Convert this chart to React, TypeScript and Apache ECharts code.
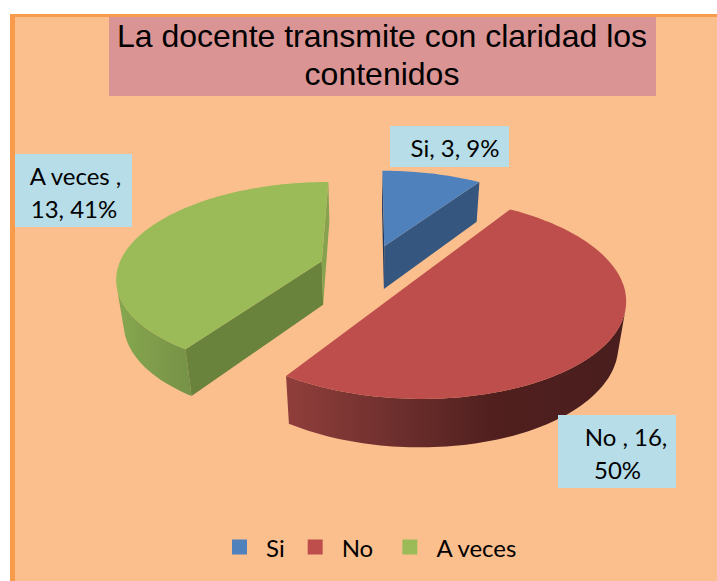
import React, { useEffect, useRef } from "react";
import * as echarts from "echarts";

const categories = ["Si", "No ", "A veces "];
const counts = [3, 16, 13];
const topColors = ["#4F81BD", "#BD4E4B", "#9BBB59"];
const titleText = "La docente transmite con claridad los\ncontenidos";

// View of the tilted pie: perspective projection of the unit disc.
const VIEW = { cx: 370, cy: 268, fx: 204, fy: 94, k: 0.16, explode: 0.25, depth: 45, recede: 0.03 };
const total = counts.reduce((a, b) => a + b, 0);

function project(u: number, v: number, bottom: boolean): [number, number] {
  const w = 1 - VIEW.k * v + (bottom ? VIEW.recede : 0);
  return [VIEW.cx + (VIEW.fx * u) / w, VIEW.cy + (VIEW.fy * v + (bottom ? VIEW.depth : 0)) / w];
}

function area(q: number[][]) {
  let s = 0;
  for (let i = 0; i < q.length; i++) {
    const a = q[i];
    const b = q[(i + 1) % q.length];
    s += a[0] * b[1] - b[0] * a[1];
  }
  return s;
}

const wallStyles = [
  { outer: "#34567F", start: "#1F3A5F", end: "#34567F" },
  {
    outer: new echarts.graphic.LinearGradient(287, 0, 620, 0, [
      { offset: 0, color: "#903E3B" },
      { offset: 0.35, color: "#6B2E2C" },
      { offset: 0.62, color: "#501F1E" },
      { offset: 1, color: "#4A1E1E" },
    ], true),
    start: "#6B2E2C",
    end: "#6B2E2C",
  },
  {
    outer: new echarts.graphic.LinearGradient(120, 0, 190, 0, [
      { offset: 0, color: "#86A64E" },
      { offset: 1, color: "#769247" },
    ], true),
    start: "#6A833C",
    end: "#86A24E",
  },
];

function makeRender(index: number) {
  return (_params: any, api: any) => {
    const before = counts.slice(0, index).reduce((a, b) => a + b, 0);
    const value = api.value(0);
    const a0 = (before / total) * Math.PI * 2;
    const a1 = ((before + value) / total) * Math.PI * 2;
    const mid = (a0 + a1) / 2;
    const ou = Math.sin(mid) * VIEW.explode;
    const ov = -Math.cos(mid) * VIEW.explode;
    const steps = Math.max(8, Math.round((a1 - a0) * 40));
    const top: number[][] = [];
    const bot: number[][] = [];
    for (let i = 0; i <= steps; i++) {
      const t = a0 + ((a1 - a0) * i) / steps;
      const u = ou + Math.sin(t);
      const v = ov - Math.cos(t);
      top.push(project(u, v, false));
      bot.push(project(u, v, true));
    }
    const ct = project(ou, ov, false);
    const cb = project(ou, ov, true);
    const styles = wallStyles[index];
    const children: any[] = [];
    const poly = (points: number[][], fill: any) => ({
      type: "polygon",
      shape: { points },
      style: { fill, stroke: null },
    });
    // outer wall: only the part facing the viewer
    let first = -1;
    let last = -1;
    for (let i = 0; i < steps; i++) {
      if (area([top[i], top[i + 1], bot[i + 1], bot[i]]) < 0) {
        if (first < 0) first = i;
        last = i;
      }
    }
    if (first >= 0) {
      const pts = top.slice(first, last + 2).concat(bot.slice(first, last + 2).reverse());
      children.push(poly(pts, styles.outer));
    }
    const startWall = [ct, top[0], bot[0], cb];
    if (area(startWall) < 0) children.push(poly(startWall, styles.start));
    const endWall = [top[steps], ct, cb, bot[steps]];
    if (area(endWall) < 0) children.push(poly(endWall, styles.end));
    children.push(poly([ct, ...top], topColors[index]));
    return { type: "group", children };
  };
}

const labelFont = "Lato, Carlito, sans-serif";
const pct = (i: number) => Math.round((counts[i] / total) * 100);

export default function App() {
  const ref = useRef<HTMLDivElement>(null);
  useEffect(() => {
    const chart = echarts.init(ref.current!, undefined, { renderer: "svg" });
    const box = (x: number, y: number, w: number, h: number) => ({
      type: "rect",
      z: 10,
      shape: { x, y, width: w, height: h },
      style: { fill: "#B7DDE8" },
    });
    const line = (text: string, x: number, y: number) => ({
      type: "text",
      z: 11,
      x,
      y,
      style: { text, fill: "#000", font: `24px ${labelFont}`, textAlign: "center", textVerticalAlign: "middle" },
    });
    chart.setOption({
      animation: false,
      title: {
        text: titleText,
        left: 377,
        top: 12,
        textAlign: "center",
        textStyle: { fontFamily: "Liberation Sans", fontSize: 32, fontWeight: "normal", color: "#000", lineHeight: 38 },
      },
      legend: {
        left: 227,
        top: 530,
        icon: "rect",
        itemWidth: 15,
        itemHeight: 15,
        itemGap: 23,
        selectedMode: false,
        data: categories,
        textStyle: { fontFamily: labelFont, fontSize: 24, color: "#000", padding: [0, 0, 0, 14] },
      },
      graphic: [
        { type: "rect", z: 0, shape: { x: 10, y: 14, width: 707, height: 567 }, style: { fill: "#F99B4C" } },
        { type: "rect", z: 0, shape: { x: 15, y: 17, width: 702, height: 564 }, style: { fill: "#FBBF8E" } },
        { type: "rect", z: 1, shape: { x: 109, y: 17, width: 547, height: 79 }, style: { fill: "#DA9494" } },
        box(390, 126, 119, 41),
        line(`${categories[0]}, ${counts[0]}, ${pct(0)}%`, 455, 147),
        box(558, 415, 118, 73),
        line(`${categories[1]}, ${counts[1]},`, 626, 436),
        line(`${pct(1)}%`, 617.5, 469),
        box(15, 154, 117, 73),
        line(`${categories[2]},`, 75.5, 175),
        line(`${counts[2]}, ${pct(2)}%`, 74, 208),
      ],
      series: categories.map((name, i) => ({
        type: "custom",
        name,
        coordinateSystem: "none",
        silent: true,
        itemStyle: { color: topColors[i] },
        data: [[counts[i]]],
        renderItem: makeRender(i),
      })),
    });
    return () => chart.dispose();
  }, []);
  return <div ref={ref} style={{ position: "absolute", left: 0, top: 0, width: 717, height: 581 }} />;
}
